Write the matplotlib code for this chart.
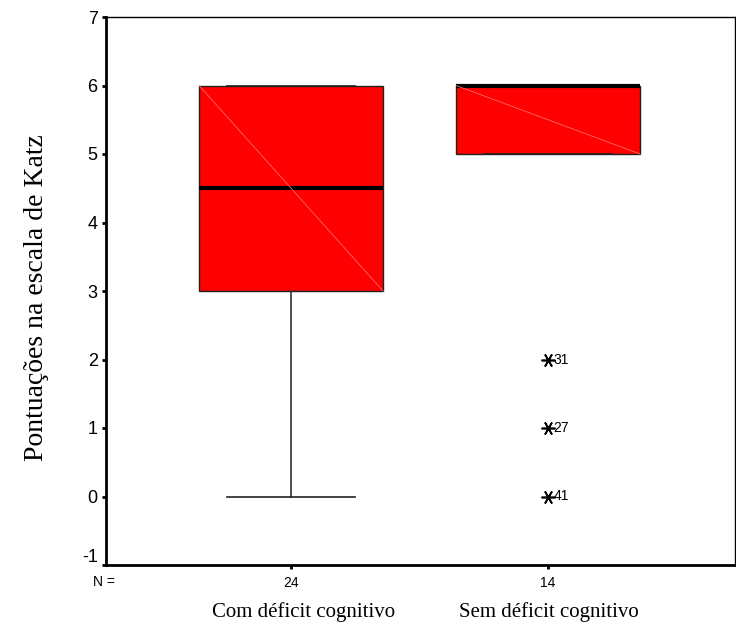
import matplotlib
matplotlib.use("Agg")
import matplotlib.pyplot as plt
from matplotlib.transforms import ScaledTranslation

# Data
groups = ["Com déficit cognitivo", "Sem déficit cognitivo"]
n_counts = [24, 14]
q1 = [3.0, 5.0]
medians = [4.5, 6.0]
q3 = [6.0, 6.0]
whisker_low = [0.0, 5.0]
whisker_high = [6.0, 6.0]
outliers_group2 = [2.0, 1.0, 0.0]
outlier_ids_group2 = ["31", "27", "41"]
yticks = [-1, 0, 1, 2, 3, 4, 5, 6, 7]
ylabel = "Pontuações na escala de Katz"

fig = plt.figure(figsize=(7.36, 6.30), dpi=100)
ax = fig.add_axes([106/736, 1 - 565/630, (735-106)/736, (565-17)/630])

positions = [1, 2]
stats = []
for i in range(2):
    stats.append(dict(med=medians[i], q1=q1[i], q3=q3[i],
                      whislo=whisker_low[i], whishi=whisker_high[i],
                      fliers=[], label=""))

box_w = 0.716
ax.bxp(stats, positions=positions, widths=box_w, patch_artist=True,
       showfliers=False, showcaps=True,
       boxprops=dict(facecolor="#ff0000", edgecolor="#222222", linewidth=1.0),
       medianprops=dict(color="black", linewidth=3.0, solid_capstyle="butt"),
       whiskerprops=dict(color="#333333", linewidth=1.2),
       capprops=dict(color="#222222", linewidth=1.2),
       capwidths=0.5)

# faint diagonal rendering lines inside boxes
for i, p in enumerate(positions):
    ax.plot([p - box_w/2, p + box_w/2], [q3[i], q1[i]], color="#ff6a6a",
            linewidth=0.6, zorder=3)

# extreme values of group 2
ax.plot([positions[1]] * len(outliers_group2), outliers_group2, linestyle="none",
        marker=(6, 2, 90), markersize=10, markeredgewidth=1.2, color="black", zorder=4)
for y, lab in zip(outliers_group2, outlier_ids_group2):
    ax.text(positions[1] + 0.02, y, lab, fontsize=10, family="Liberation Sans",
            va="center", ha="left")

ax.set_xlim(0.280, 2.7276)
ax.set_ylim(-1, 7)
ax.set_yticks(yticks)
ax.set_yticklabels([str(t) for t in yticks], fontsize=13, family="Liberation Sans")
ax.set_xticks(positions)
ax.set_xticklabels([str(n) for n in n_counts], fontsize=10, family="Liberation Sans")
ax.tick_params(axis="y", direction="out", length=3, width=2, pad=3)
ax.tick_params(axis="x", direction="out", length=3, width=2, pad=5)

# lift the lowest y tick label off the x axis line, as in the reference
lowest = ax.get_yticklabels()[0]
lowest.set_transform(lowest.get_transform() + ScaledTranslation(0, 9/100, fig.dpi_scale_trans))

for side in ["left", "bottom"]:
    ax.spines[side].set_linewidth(2.0)
for side in ["top", "right"]:
    ax.spines[side].set_linewidth(1.0)

ax.text(-0.021, -0.031, "N =", transform=ax.transAxes, fontsize=10,
        family="Liberation Sans", ha="left", va="center")

cat_x = [1.047, 2.005]
for x, g in zip(cat_x, groups):
    ax.text(x, -1.68, g, fontsize=15, family="Liberation Serif", ha="center", va="center")

ax.set_ylabel(ylabel, fontsize=20, family="Liberation Serif")
ax.yaxis.set_label_coords(-0.091, 0.488)

fig.savefig("out.png", dpi=100)
